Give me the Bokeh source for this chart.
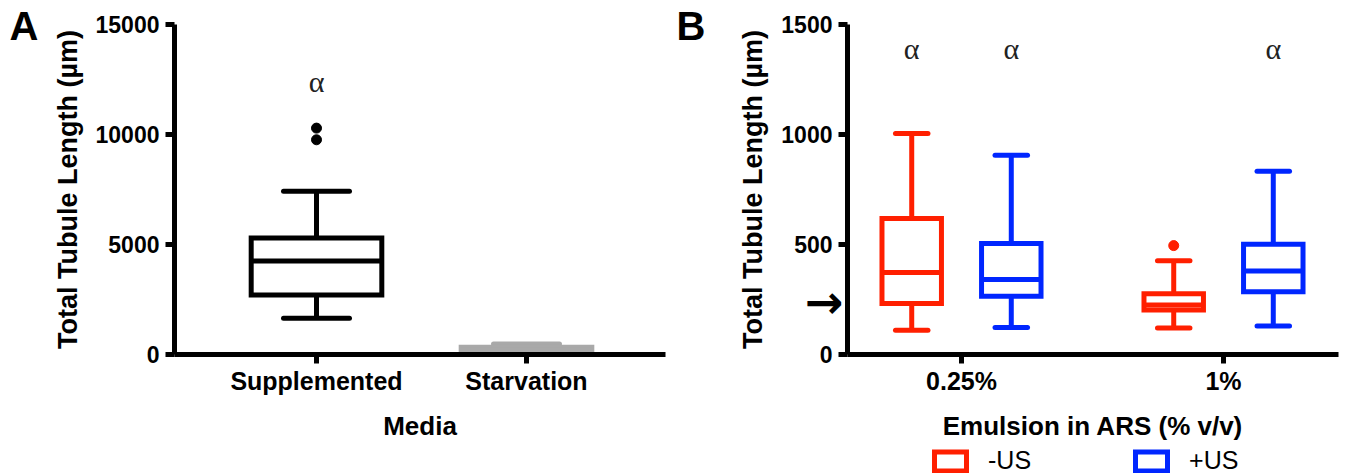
from bokeh.plotting import figure
from bokeh.layouts import row, column
from bokeh.models import (ColumnDataSource, Range1d, FixedTicker, Label, Legend, LegendItem,
                          Spacer)
from bokeh.core.properties import value
from bokeh.embed import file_html
from bokeh.resources import INLINE

# ---------------- data: panel A ----------------
media = ["Supplemented", "Starvation"]
a_low = [1650, 30]
a_q1 = [2700, 120]
a_median = [4250, 220]
a_q3 = [5300, 330]
a_high = [7420, 480]
a_colors = ["#000000", "#a9a9a9"]
a_outlier_media = ["Supplemented", "Supplemented"]
a_outlier_values = [9760, 10290]
a_sig_media = ["Supplemented"]
a_sig_level = 12420
a_yticks = [0, 5000, 10000, 15000]

# ---------------- data: panel B ----------------
emulsion = ["0.25%", "1%"]
series_names = ["-US", "+US"]
series_colors = ["#ff1f00", "#0026ff"]
minus_low = [110, 121]
minus_q1 = [232, 202]
minus_median = [373, 225]
minus_q3 = [618, 276]
minus_high = [1005, 426]
plus_low = [123, 130]
plus_q1 = [265, 285]
plus_median = [341, 380]
plus_q3 = [505, 501]
plus_high = [906, 833]
minus_outlier_emulsion = ["1%"]
minus_outlier_values = [495]
minus_sig = ["0.25%"]
plus_sig = ["0.25%", "1%"]
b_sig_level = 1390
b_yticks = [0, 500, 1000, 1500]
starvation_ref = 240

# ---------------- styling ----------------
FONT = "Liberation Sans"
SERIF = "Liberation Serif"
TOP = 24
FRAME_H = 330
BOTTOM = 92
H = TOP + FRAME_H + BOTTOM
LW = 5


def style_axes(p, yticks, xlabels, xlabel, ylabel):
    p.outline_line_color = None
    p.xgrid.visible = False
    p.ygrid.visible = False
    p.background_fill_color = "white"
    for ax in (p.xaxis[0], p.yaxis[0]):
        ax.axis_line_width = LW
        ax.axis_line_color = "black"
        ax.major_tick_line_width = LW
        ax.major_tick_line_color = "black"
        ax.major_tick_in = 0
        ax.major_tick_out = 9
        ax.minor_tick_line_color = None
        ax.major_label_text_font = FONT
        ax.major_label_text_font_style = "bold"
        ax.major_label_text_color = "black"
        ax.axis_label_text_font = FONT
        ax.axis_label_text_font_style = "bold"
        ax.axis_label_text_color = "black"
    p.yaxis[0].ticker = FixedTicker(ticks=yticks)
    p.yaxis[0].major_label_text_font_size = "23px"
    p.yaxis[0].major_label_standoff = 6
    p.yaxis[0].axis_label = ylabel
    p.yaxis[0].axis_label_text_font_size = "27px"
    p.yaxis[0].axis_label_standoff = 10
    xt = [i + 1 for i in range(len(xlabels))]
    p.xaxis[0].ticker = FixedTicker(ticks=xt)
    p.xaxis[0].major_label_overrides = {float(t): lab for t, lab in zip(xt, xlabels)}
    p.xaxis[0].major_label_text_font_size = "25px"
    p.xaxis[0].major_label_standoff = 3
    p.xaxis[0].axis_label = xlabel
    p.xaxis[0].axis_label_text_font_size = "26px"
    p.xaxis[0].axis_label_standoff = 13


def draw_boxes(p, xs, low, q1, med, q3, high, colors, box_w, cap_w):
    src = ColumnDataSource(dict(
        x=xs, low=low, q1=q1, med=med, q3=q3, high=high, color=colors,
        left=[x - box_w / 2 for x in xs], right=[x + box_w / 2 for x in xs],
        cl=[x - cap_w / 2 for x in xs], cr=[x + cap_w / 2 for x in xs]))
    p.segment(x0="x", y0="q3", x1="x", y1="high", line_color="color", line_width=LW, source=src)
    p.segment(x0="x", y0="q1", x1="x", y1="low", line_color="color", line_width=LW, source=src)
    p.segment(x0="cl", y0="high", x1="cr", y1="high", line_color="color", line_width=LW,
              line_cap="round", source=src)
    p.segment(x0="cl", y0="low", x1="cr", y1="low", line_color="color", line_width=LW,
              line_cap="round", source=src)
    r = p.quad(left="left", right="right", bottom="q1", top="q3", fill_color="white",
               line_color="color", line_width=LW, line_join="miter", source=src)
    p.segment(x0="left", y0="med", x1="right", y1="med", line_color="color", line_width=LW,
              source=src)
    return r


# ================= panel A =================
WA, LA, RA = 667, 174, 2
a_unit = 210.0
a_start = 1 - 142 / a_unit
a_end = a_start + (WA - LA - RA) / a_unit
pa = figure(width=WA, height=H, x_range=Range1d(a_start, a_end),
            y_range=Range1d(a_yticks[0], a_yticks[-1]),
            output_backend="svg", toolbar_location=None,
            min_border_left=LA, min_border_right=RA, min_border_top=TOP,
            min_border_bottom=BOTTOM)
style_axes(pa, a_yticks, media, "Media", "Total Tubule Length (µm)")
a_x = [i + 1 for i in range(len(media))]
draw_boxes(pa, a_x, a_low, a_q1, a_median, a_q3, a_high, a_colors, 0.622, 0.314)
pa.scatter(x=[media.index(m) + 1 for m in a_outlier_media], y=a_outlier_values,
           size=10, color=a_colors[0])
pa.text(x=[media.index(m) + 1 for m in a_sig_media], y=[a_sig_level] * len(a_sig_media),
        text=["α"] * len(a_sig_media), text_font=value(SERIF), text_font_size="30px",
        text_align="center", text_baseline="middle", text_color="#222222")
pa.add_layout(Label(x=9, y=25, x_units="canvas", y_units="canvas", text="A",
                    text_font=FONT, text_font_style="bold", text_font_size="40px",
                    text_baseline="alphabetic", text_color="black"), "left")

# ================= panel B =================
WB, LB, RB = 680, 180, 9
b_unit = 262.0
b_start = 1 - 114 / b_unit
b_end = b_start + (WB - LB - RB) / b_unit
pb = figure(width=WB, height=H, x_range=Range1d(b_start, b_end),
            y_range=Range1d(b_yticks[0], b_yticks[-1]),
            output_backend="svg", toolbar_location=None,
            min_border_left=LB, min_border_right=RB, min_border_top=TOP,
            min_border_bottom=BOTTOM)
style_axes(pb, b_yticks, emulsion, "Emulsion in ARS (% v/v)", "Total Tubule Length (µm)")
offset = 0.19
b_x = [i + 1 for i in range(len(emulsion))]
minus_x = [x - offset for x in b_x]
plus_x = [x + offset for x in b_x]
draw_boxes(pb, minus_x, minus_low, minus_q1, minus_median, minus_q3, minus_high,
           [series_colors[0]] * len(b_x), 0.227, 0.124)
draw_boxes(pb, plus_x, plus_low, plus_q1, plus_median, plus_q3, plus_high,
           [series_colors[1]] * len(b_x), 0.227, 0.124)
pb.scatter(x=[emulsion.index(e) + 1 - offset for e in minus_outlier_emulsion],
           y=minus_outlier_values, size=10, color=series_colors[0])
sig_x = [emulsion.index(e) + 1 - offset for e in minus_sig] + \
        [emulsion.index(e) + 1 + offset for e in plus_sig]
pb.text(x=sig_x, y=[b_sig_level] * len(sig_x), text=["α"] * len(sig_x),
        text_font=value(SERIF), text_font_size="30px", text_align="center",
        text_baseline="middle", text_color="#222222")
pb.add_layout(Label(x=9, y=25, x_units="canvas", y_units="canvas", text="B",
                    text_font=FONT, text_font_style="bold", text_font_size="40px",
                    text_baseline="alphabetic", text_color="black"), "left")
ref_y = TOP + FRAME_H - starvation_ref / (b_yticks[-1] - b_yticks[0]) * FRAME_H
pb.add_layout(Label(x=LB - 4, y=ref_y, x_units="canvas", y_units="canvas", text="→",
                    text_font="DejaVu Sans", text_font_style="bold", text_font_size="46px",
                    text_align="right", text_baseline="middle", text_color="black"), "left")

# ================= legend strip under panel B =================
LEG_H = 475 - H
lf = figure(width=WB - LB - RB, height=LEG_H, x_range=Range1d(0, 1), y_range=Range1d(0, 1),
            output_backend="svg", toolbar_location=None, min_border=0,
            x_axis_location=None, y_axis_location=None)
lf.outline_line_color = None
lf.xgrid.visible = False
lf.ygrid.visible = False
# legend proxies: one off-screen quad per series, only their styles are shown
leg_renderers = [lf.quad(left=[-3], right=[-2], bottom=[-3], top=[-2], fill_color="white",
                         line_color=c, line_width=LW, line_join="miter")
                 for c in series_colors]
legend = Legend(items=[LegendItem(label=n, renderers=[r])
                       for n, r in zip(series_names, leg_renderers)],
                orientation="horizontal", location=(83, 0),
                glyph_width=40, glyph_height=24, label_height=24,
                label_standoff=18, spacing=100, padding=0, margin=0,
                border_line_alpha=0, background_fill_alpha=0,
                label_text_font=FONT, label_text_font_size="25px",
                label_text_color="black")
lf.add_layout(legend)

layout = column(row(pa, pb), row(Spacer(width=WA + LB, height=LEG_H), lf))
open("out.html", "w").write(file_html(layout, INLINE))
